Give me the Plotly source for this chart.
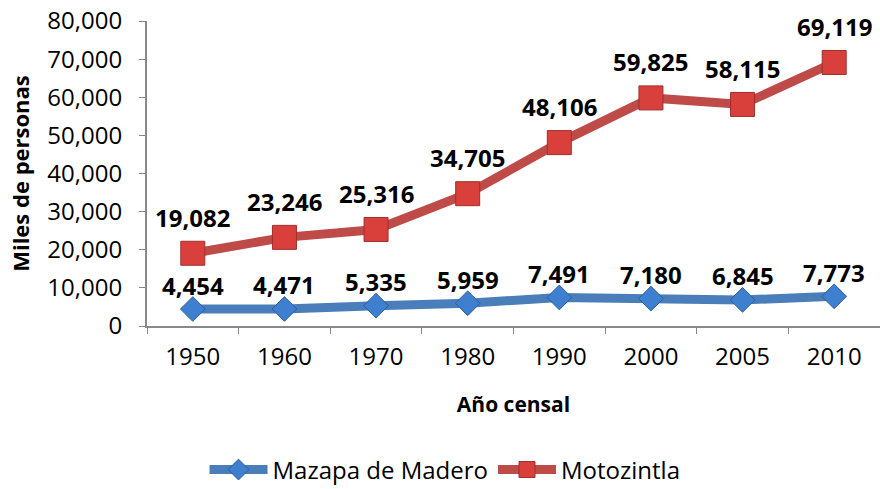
import plotly.graph_objects as go

years = ["1950", "1960", "1970", "1980", "1990", "2000", "2005", "2010"]
mazapa = [4454, 4471, 5335, 5959, 7491, 7180, 6845, 7773]
motozintla = [19082, 23246, 25316, 34705, 48106, 59825, 58115, 69119]

BLUE = "#4A7EBB"
RED = "#BE4B48"
FONT = "Open Sans"

fig = go.Figure()
fig.add_trace(go.Scatter(
    x=years, y=mazapa, name="Mazapa de Madero", mode="lines+markers",
    line=dict(color=BLUE, width=9),
    marker=dict(symbol="diamond", size=19, color="#3F7FD0",
                line=dict(color="#2E5E9A", width=1)),
))
fig.add_trace(go.Scatter(
    x=years, y=motozintla, name="Motozintla", mode="lines+markers",
    line=dict(color=RED, width=9),
    marker=dict(symbol="square", size=24, color="#D9403B",
                line=dict(color="#9E2F2C", width=1)),
))

# category axes: annotation x given as category index
for i, v in enumerate(mazapa):
    fig.add_annotation(x=i, y=v, text=f"<b>{v:,}</b>", showarrow=False,
                       yshift=24, font=dict(family=FONT, size=24, color="black"))
for i, v in enumerate(motozintla):
    fig.add_annotation(x=i, y=v, text=f"<b>{v:,}</b>", showarrow=False,
                       yshift=36, font=dict(family=FONT, size=24, color="black"))

fig.update_layout(
    width=880, height=489,
    margin=dict(l=147, r=0, t=21, b=163),
    plot_bgcolor="white", paper_bgcolor="white",
    font=dict(family=FONT, size=24, color="black"),
    showlegend=True,
    legend=dict(orientation="h", xref="container", x=0.5057, xanchor="center",
                yref="container", y=0.039, yanchor="middle",
                font=dict(family=FONT, size=24, color="black"),
                itemwidth=58, traceorder="normal"),
    xaxis=dict(type="category", range=[-0.5, 7.5], showline=True, linecolor="#888888",
               linewidth=2, ticks="outside", tickson="boundaries", ticklen=6,
               tickcolor="#888888", showgrid=False, zeroline=False, automargin=False,
               tickfont=dict(family=FONT, size=24), ticklabelstandoff=8,
               title=dict(text="<b>Año censal</b>", font=dict(family=FONT, size=21), standoff=27)),
    yaxis=dict(range=[0, 80000], dtick=10000, tickformat=",d", showline=True,
               linecolor="#888888", linewidth=2, ticks="outside", ticklen=6,
               tickcolor="#888888", showgrid=False, zeroline=False, automargin=False,
               tickfont=dict(family=FONT, size=24), ticklabelstandoff=12,
               ticklabeloverflow="allow",
               title=dict(text="<b>Miles de personas</b>", font=dict(family=FONT, size=22), standoff=12)),
)

fig.write_html("out.html", config={"displayModeBar": False},
               post_script="document.body.style.margin='0';document.body.style.overflow='hidden';")
